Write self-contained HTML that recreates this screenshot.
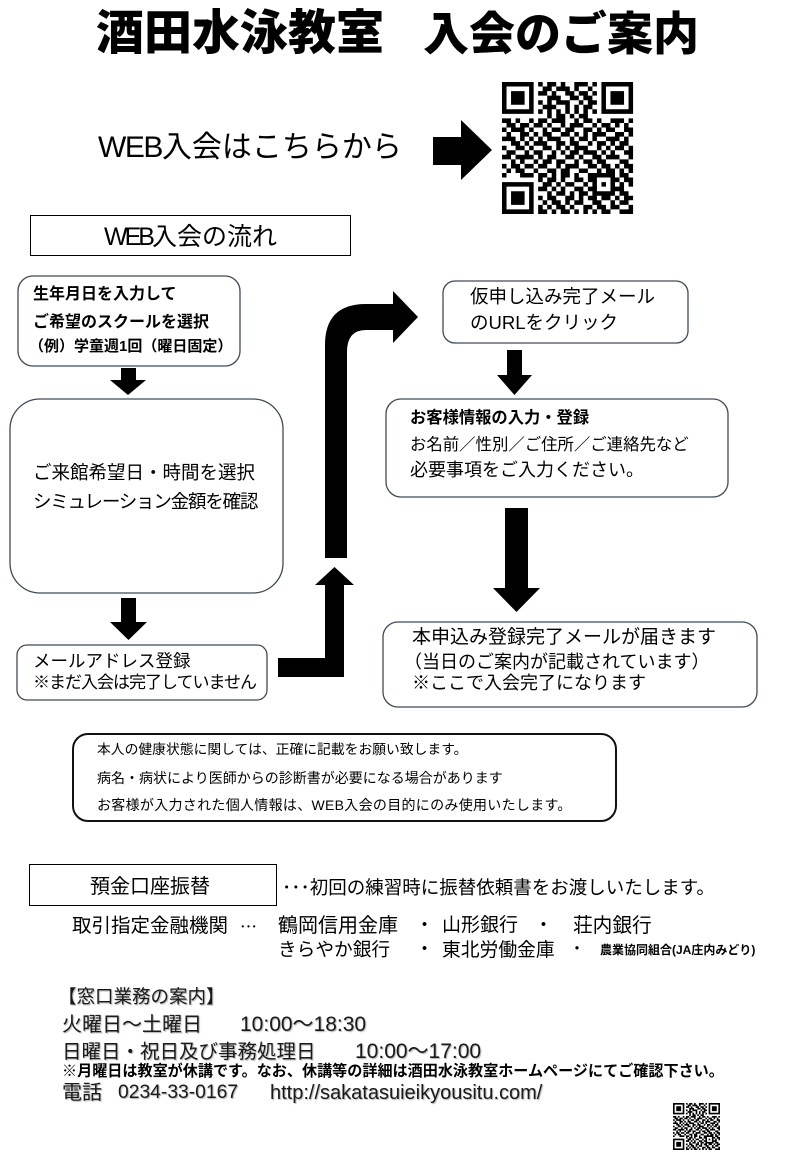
<!DOCTYPE html>
<html><head><meta charset="utf-8">
<style>
html,body{margin:0;padding:0;background:#fff;}
#pg{position:relative;width:808px;height:1162px;overflow:hidden;background:#fff;}
.t{position:absolute;white-space:nowrap;font-family:"Liberation Sans","Noto Sans CJK JP",sans-serif;color:#000;}
.sh{color:#1a1a1a;text-shadow:1px 1px 1px #b0b0b0;}
svg{position:absolute;left:0;top:0;}
</style></head><body><div id="pg">
<svg width="808" height="1162" viewBox="0 0 808 1162">
<defs>
<path id="qr" fill="none" stroke="#000" stroke-width="1" d="M0 .5h7M8 .5h1M10 .5h2M13 .5h1M16 .5h3M20 .5h1M22 .5h7M0 1.5h1M6 1.5h1M9 1.5h2M12 1.5h3M16 1.5h1M19 1.5h1M22 1.5h1M28 1.5h1M0 2.5h1M2 2.5h3M6 2.5h1M8 2.5h2M11 2.5h1M14 2.5h2M17 2.5h2M20 2.5h1M22 2.5h1M24 2.5h3M28 2.5h1M0 3.5h1M2 3.5h3M6 3.5h1M10 3.5h3M15 3.5h2M18 3.5h2M22 3.5h1M24 3.5h3M28 3.5h1M0 4.5h1M2 4.5h3M6 4.5h1M8 4.5h1M10 4.5h1M12 4.5h3M17 4.5h1M19 4.5h2M22 4.5h1M24 4.5h3M28 4.5h1M0 5.5h1M6 5.5h1M9 5.5h3M14 5.5h1M16 5.5h1M18 5.5h2M22 5.5h1M28 5.5h1M0 6.5h7M8 6.5h1M10 6.5h1M12 6.5h1M14 6.5h1M16 6.5h1M18 6.5h1M20 6.5h1M22 6.5h7M10 7.5h1M12 7.5h2M15 7.5h1M17 7.5h2M0 8.5h2M3 8.5h1M6 8.5h1M8 8.5h2M11 8.5h3M16 8.5h1M18 8.5h2M21 8.5h1M24 8.5h3M28 8.5h1M1 9.5h2M4 9.5h2M7 9.5h2M10 9.5h1M13 9.5h1M15 9.5h3M20 9.5h1M22 9.5h2M25 9.5h1M27 9.5h1M0 10.5h1M2 10.5h3M6 10.5h1M9 10.5h1M11 10.5h2M14 10.5h2M18 10.5h2M21 10.5h1M23 10.5h2M27 10.5h2M1 11.5h1M4 11.5h2M7 11.5h1M9 11.5h2M13 11.5h2M16 11.5h1M18 11.5h1M20 11.5h3M25 11.5h2M28 11.5h1M0 12.5h3M4 12.5h1M6 12.5h1M8 12.5h1M10 12.5h3M15 12.5h1M17 12.5h2M20 12.5h1M23 12.5h3M27 12.5h1M2 13.5h2M5 13.5h1M7 13.5h3M12 13.5h2M15 13.5h2M19 13.5h1M21 13.5h2M24 13.5h1M26 13.5h2M0 14.5h1M3 14.5h2M6 14.5h1M9 14.5h2M12 14.5h1M14 14.5h1M16 14.5h3M21 14.5h1M23 14.5h1M25 14.5h2M28 14.5h1M1 15.5h2M5 15.5h1M7 15.5h2M11 15.5h1M13 15.5h1M15 15.5h2M18 15.5h3M22 15.5h1M24 15.5h1M27 15.5h2M0 16.5h2M3 16.5h4M8 16.5h1M10 16.5h2M14 16.5h2M17 16.5h1M20 16.5h2M23 16.5h3M28 16.5h1M2 17.5h1M4 17.5h1M7 17.5h1M9 17.5h2M12 17.5h2M16 17.5h1M18 17.5h2M21 17.5h2M26 17.5h2M0 18.5h1M2 18.5h2M5 18.5h2M8 18.5h2M12 18.5h1M14 18.5h3M19 18.5h2M22 18.5h2M25 18.5h1M27 18.5h2M1 19.5h1M3 19.5h2M7 19.5h1M10 19.5h2M13 19.5h2M17 19.5h2M21 19.5h1M23 19.5h2M26 19.5h1M28 19.5h1M0 20.5h1M4 20.5h3M8 20.5h2M11 20.5h1M13 20.5h2M16 20.5h1M19 20.5h6M26 20.5h2M8 21.5h1M10 21.5h2M13 21.5h1M16 21.5h2M19 21.5h2M24 21.5h2M27 21.5h2M0 22.5h7M9 22.5h2M12 22.5h1M14 22.5h2M18 22.5h1M20 22.5h1M22 22.5h1M24 22.5h1M26 22.5h1M28 22.5h1M0 23.5h1M6 23.5h1M8 23.5h2M11 23.5h1M13 23.5h1M16 23.5h2M19 23.5h2M24 23.5h3M0 24.5h1M2 24.5h3M6 24.5h1M10 24.5h1M12 24.5h2M15 24.5h1M17 24.5h2M20 24.5h5M26 24.5h2M0 25.5h1M2 25.5h3M6 25.5h1M8 25.5h1M10 25.5h2M14 25.5h2M17 25.5h1M19 25.5h2M22 25.5h2M25 25.5h1M27 25.5h2M0 26.5h1M2 26.5h3M6 26.5h1M9 26.5h1M11 26.5h2M14 26.5h1M16 26.5h2M20 26.5h2M24 26.5h1M26 26.5h2M0 27.5h1M6 27.5h1M8 27.5h1M10 27.5h1M12 27.5h2M15 27.5h1M18 27.5h2M21 27.5h2M24 27.5h2M28 27.5h1M0 28.5h7M8 28.5h2M11 28.5h1M13 28.5h2M16 28.5h1M18 28.5h1M20 28.5h1M22 28.5h2M26 28.5h3"/>
</defs>
<polygon points="433,137 461,137 461,120 492,150 461,180 461,165 433,165" fill="#000"/>
<g transform="translate(502,82) scale(4.52,4.55)"><use href="#qr"/></g>
<g transform="translate(673,1103) scale(1.62)"><use href="#qr"/></g>
<rect x="30.5" y="215.5" width="320" height="40" fill="#fff" stroke="#000" stroke-width="1"/>
<rect x="18" y="276" width="222" height="90" rx="15" fill="#fff" stroke="#404a57" stroke-width="1.3"/>
<polygon points="121,368 136,368 136,380 146,380 128,395 110,380 121,380" fill="#000"/>
<rect x="10" y="399" width="273" height="194" rx="30" fill="#fff" stroke="#404a57" stroke-width="1.3"/>
<polygon points="121,598 136,598 136,622 147,622 128.5,640 110,622 121,622" fill="#000"/>
<rect x="17" y="645" width="250" height="55" rx="10" fill="#fff" stroke="#404a57" stroke-width="1.3"/>
<polygon points="278,658 325,658 325,585 315,585 334.5,567 354,585 344,585 344,677 278,677" fill="#000"/>
<path d="M325 558 L325 345 Q325 304 366 304 L393 304 L393 291 L418 317 L393 343 L393 330 L366 330 Q347 330 347 352 L347 558 Z" fill="#000"/>
<rect x="443" y="281" width="245" height="62" rx="12" fill="#fff" stroke="#404a57" stroke-width="1.3"/>
<polygon points="507,350 522,350 522,375 532,375 514.5,395 497,375 507,375" fill="#000"/>
<rect x="386" y="399" width="342" height="98" rx="15" fill="#fff" stroke="#404a57" stroke-width="1.3"/>
<polygon points="505,508 528,508 528,588 540,588 516.5,612 493,588 505,588" fill="#000"/>
<rect x="383" y="622" width="374" height="85" rx="15" fill="#fff" stroke="#404a57" stroke-width="1.3"/>
<rect x="73" y="734" width="543" height="87" rx="15" fill="#fff" stroke="#111" stroke-width="2"/>
<rect x="29.5" y="864.5" width="247" height="41" fill="#fff" stroke="#000" stroke-width="1"/>
</svg>

<div class="t" style="left:96px;top:9px;font-size:48px;line-height:50px;font-weight:900;">酒田水泳教室</div>
<div class="t" style="left:423px;top:9px;font-size:46px;line-height:50px;font-weight:900;">入会のご案内</div>

<div class="t" style="left:98px;top:130px;font-size:30px;line-height:36px;"><span style="letter-spacing:-1.5px">WEB</span>入会はこちらから</div>

<div class="t" style="left:104px;top:222px;font-size:25px;line-height:30px;"><span style="letter-spacing:-3px">WEB</span>入会の流れ</div>

<div class="t" style="left:33px;top:285px;font-size:16px;line-height:20px;font-weight:bold;">生年月日を入力して</div>
<div class="t" style="left:33px;top:313px;font-size:16px;line-height:20px;font-weight:bold;">ご希望のスクールを選択</div>
<div class="t" style="left:29px;top:337px;font-size:15px;line-height:20px;font-weight:bold;">（例）学童週1回（曜日固定）</div>

<div class="t" style="left:33px;top:462px;font-size:18.5px;line-height:22px;">ご来館希望日・時間を選択</div>
<div class="t" style="left:33px;top:491px;font-size:18.5px;line-height:22px;letter-spacing:-1.2px;">シミュレーション金額を確認</div>

<div class="t" style="left:33px;top:651px;font-size:17.5px;line-height:21px;">メールアドレス登録</div>
<div class="t" style="left:33px;top:672px;font-size:17px;line-height:21px;letter-spacing:-1px;">※まだ入会は完了していません</div>

<div class="t" style="left:470px;top:286px;font-size:18.5px;line-height:22px;">仮申し込み完了メール</div>
<div class="t" style="left:470px;top:312px;font-size:18.5px;line-height:22px;">のURLをクリック</div>

<div class="t" style="left:410px;top:408px;font-size:16.3px;line-height:20px;font-weight:bold;">お客様情報の入力・登録</div>
<div class="t" style="left:410px;top:435px;font-size:16.4px;line-height:20px;">お名前／性別／ご住所／ご連絡先など</div>
<div class="t" style="left:410px;top:459px;font-size:18px;line-height:22px;">必要事項をご入力ください。</div>

<div class="t" style="left:412px;top:627px;font-size:19px;line-height:22px;">本申込み登録完了メールが届きます</div>
<div class="t" style="left:404px;top:651px;font-size:18px;line-height:22px;">（当日のご案内が記載されています）</div>
<div class="t" style="left:412px;top:672px;font-size:18px;line-height:22px;">※ここで入会完了になります</div>

<div class="t" style="left:97px;top:741px;font-size:13.8px;line-height:18px;">本人の健康状態に関しては、正確に記載をお願い致します。</div>
<div class="t" style="left:97px;top:769px;font-size:14px;line-height:18px;">病名・病状により医師からの診断書が必要になる場合があります</div>
<div class="t" style="left:97px;top:796px;font-size:14px;line-height:18px;letter-spacing:0.3px;">お客様が入力された個人情報は、WEB入会の目的にのみ使用いたします。</div>

<div class="t" style="left:90px;top:875px;font-size:20px;line-height:24px;">預金口座振替</div>
<div class="t" style="left:282px;top:876px;font-size:18.5px;line-height:22px;"><span style="font-family:'Noto Sans CJK JP',sans-serif;">･･･</span>初回の練習時に振替依頼書をお渡しいたします。</div>

<div class="t" style="left:72px;top:914px;font-size:19.5px;line-height:24px;">取引指定金融機関</div>
<div class="t" style="left:240px;top:914px;font-size:17px;line-height:24px;font-family:'Noto Sans CJK JP',sans-serif;">…</div>
<div class="t" style="left:278px;top:914px;font-size:20px;line-height:24px;">鶴岡信用金庫</div>
<div class="t" style="left:415px;top:914px;font-size:19px;line-height:24px;">・</div>
<div class="t" style="left:442px;top:914px;font-size:19px;line-height:24px;">山形銀行</div>
<div class="t" style="left:534px;top:914px;font-size:19px;line-height:24px;">・</div>
<div class="t" style="left:573px;top:914px;font-size:19.7px;line-height:24px;">荘内銀行</div>

<div class="t" style="left:278px;top:938px;font-size:18.7px;line-height:24px;">きらやか銀行</div>
<div class="t" style="left:415px;top:938px;font-size:19px;line-height:24px;">・</div>
<div class="t" style="left:442px;top:938px;font-size:18.8px;line-height:24px;">東北労働金庫</div>
<div class="t" style="left:569px;top:940px;font-size:16px;line-height:20px;">・</div>
<div class="t" style="left:600px;top:942px;font-size:12px;line-height:16px;font-weight:bold;">農業協同組合(JA庄内みどり)</div>

<div class="t sh" style="left:58px;top:986px;font-size:18.5px;line-height:22px;">【窓口業務の案内】</div>
<div class="t sh" style="left:62px;top:1013px;font-size:20px;line-height:24px;">火曜日〜土曜日</div>
<div class="t sh" style="left:240px;top:1012px;font-size:21px;line-height:26px;">10:00〜18:30</div>
<div class="t sh" style="left:62px;top:1040px;font-size:19.5px;line-height:24px;">日曜日・祝日及び事務処理日</div>
<div class="t sh" style="left:355px;top:1039px;font-size:21px;line-height:26px;">10:00〜17:00</div>
<div class="t" style="left:62px;top:1063px;font-size:15.1px;line-height:18px;font-weight:bold;">※月曜日は教室が休講です。なお、休講等の詳細は酒田水泳教室ホームページにてご確認下さい。</div>
<div class="t sh" style="left:62px;top:1081px;font-size:20px;line-height:24px;">電話</div>
<div class="t sh" style="left:118px;top:1081px;font-size:19.3px;line-height:24px;">0234-33-0167</div>
<div class="t sh" style="left:270px;top:1081px;font-size:20px;line-height:24px;">http://sakatasuieikyousitu.com/</div>

</div></body></html>
